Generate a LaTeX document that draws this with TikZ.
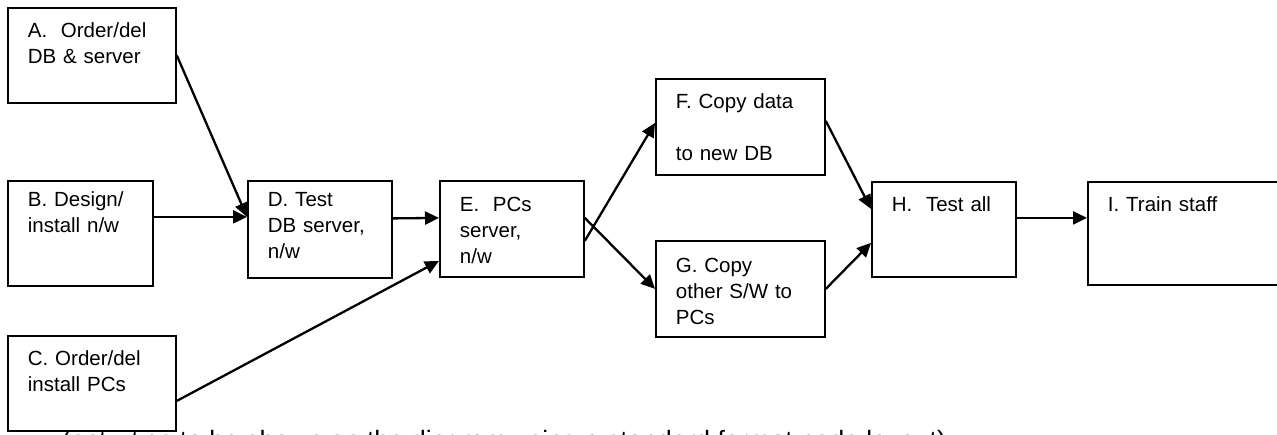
\documentclass[tikz,border=0pt]{standalone}
\usepackage{fontspec}
\setmainfont{Liberation Sans}
\usepackage{tikz}
\usetikzlibrary{arrows.meta}
\newcommand{\boxfont}{\fontsize{20.5}{26}\selectfont}
\newcommand{\notefont}{\fontsize{26.5}{32}\selectfont}

\begin{document}
\begin{tikzpicture}[
    x=1pt, y=-1pt,
    box/.style={rectangle, draw, line width=1.8pt, fill=white, anchor=north west,
                align=left, inner xsep=20pt, inner ysep=0pt, text height=30pt,
                font=\boxfont},
    arrow/.style={-{Triangle[length=14pt, width=13pt]}, line width=2.3pt}
]
\clip (0,0) rectangle (1277,434);

% note line running under the chart
\node[anchor=base west, inner sep=0pt, font=\notefont] (note) at (62,449)
    {(activities to be shown on the diagram using a standard format node layout)};

\node[box, text width=128pt, text depth=65pt] (order)   at (7,7)     {A.\ \ Order/del\\DB \& server};
\node[box, text width=105pt, text height=26pt, text depth=79pt] (design) at (7,180) {B. Design/\\install n/w};
\node[box, text width=128pt, text depth=65pt] (orderpc) at (7,335)   {C. Order/del\\install PCs};
\node[box, text width=104pt, text height=26pt, text depth=71pt] (testdb) at (247,180) {D. Test\\DB server,\\n/w};
\node[box, text width=104pt, text height=31pt, text depth=65pt] (pcs) at (439,180) {E.\ \ PCs\\server,\\n/w};
\node[box, text width=129pt, text depth=66pt] (copydata) at (655,78) {F. Copy data\\[26pt]to new DB};
\node[box, text width=129pt, text height=32pt, text depth=64pt] (copysw) at (655,240) {G. Copy\\other S/W to\\PCs};
\node[box, text width=104pt, text depth=65pt] (testall) at (871,181) {H.\ \ Test all};
\node[box, text width=190pt, text depth=73pt] (train)   at (1087,181) {I. Train staff};

\draw[arrow] (order.east) -- ([yshift=12.5pt]testdb.west);
\draw[arrow] ([yshift=16.5pt]design.east) -- ([yshift=12.5pt]testdb.west);
\draw[arrow] ([yshift=11pt]testdb.east) -- ([yshift=11pt]pcs.west);
\draw[arrow] ([yshift=-17.5pt]orderpc.east) -- ([yshift=-32pt]pcs.west);
\draw[arrow] ([yshift=-12pt]pcs.east) -- ([yshift=4pt]copydata.west);
\draw[arrow] ([yshift=11pt]pcs.east) -- (copysw.west);
\draw[arrow] ([yshift=6pt]copydata.east) -- ([yshift=20.5pt]testall.west);
\draw[arrow] (copysw.east) -- ([yshift=-13.5pt]testall.west);
\draw[arrow] ([yshift=11.5pt]testall.east) -- ([yshift=15.5pt]train.west);
\end{tikzpicture}
\end{document}
